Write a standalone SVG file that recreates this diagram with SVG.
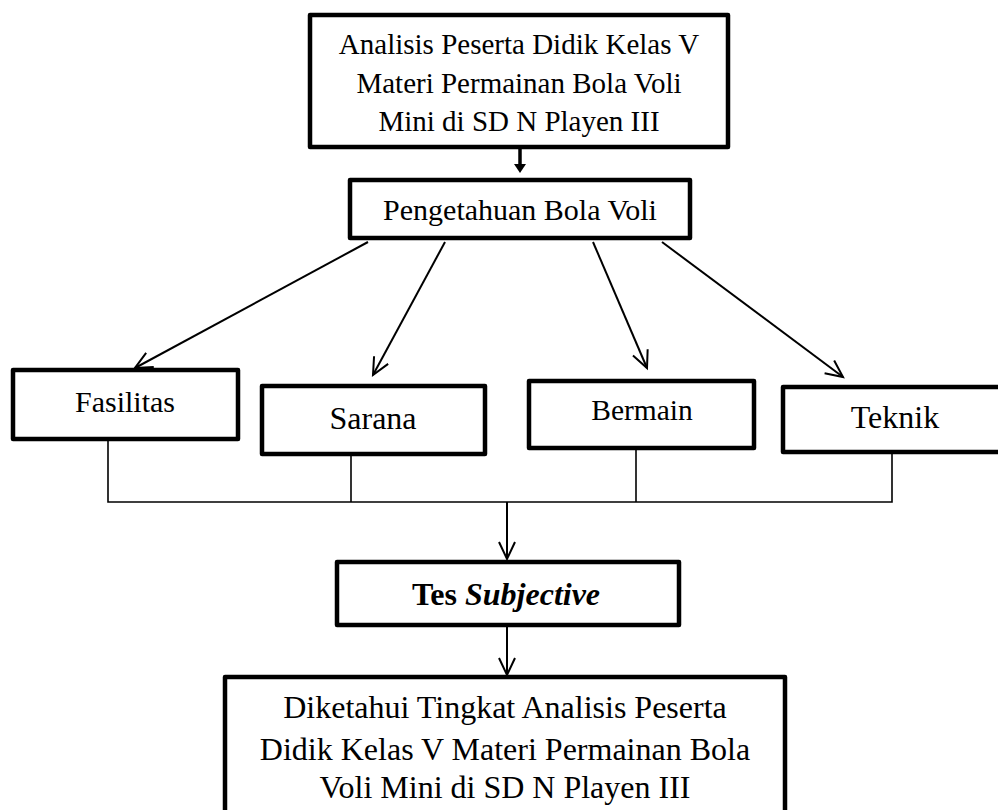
<svg xmlns="http://www.w3.org/2000/svg" width="998" height="810" viewBox="0 0 998 810">
<style>
.box{fill:#fff;stroke:#000;stroke-width:4.5;stroke-linejoin:round}
.t{font-family:"Liberation Serif","Times New Roman",serif;fill:#000;text-anchor:middle}
.arr{stroke:#000;stroke-width:2;fill:none;marker-end:url(#v)}
.thin{stroke:#000;stroke-width:1.6;fill:none}
</style>
<defs>
<marker id="v" markerUnits="userSpaceOnUse" markerWidth="40" markerHeight="40" viewBox="-20 -20 40 40" refX="0" refY="0" orient="auto" overflow="visible">
<path d="M-17,-8 L0,0 L-17,8" fill="none" stroke="#000" stroke-width="2"/>
</marker>
</defs>
<rect width="998" height="810" fill="#fff"/>
<g id="connectors">
<line x1="520" y1="147" x2="520" y2="165" stroke="#000" stroke-width="3.5"/>
<polygon points="514,164 526,164 520,173" fill="#000"/>
<line class="arr" x1="368" y1="242" x2="135" y2="368"/>
<line class="arr" x1="445" y1="242" x2="373" y2="375"/>
<line class="arr" x1="593" y1="242" x2="647" y2="368"/>
<line class="arr" x1="662" y1="242" x2="843" y2="377"/>
<polyline class="thin" points="108,439 108,502 892,502 892,452"/>
<line class="thin" x1="351" y1="454" x2="351" y2="502"/>
<line class="thin" x1="636" y1="448" x2="636" y2="502"/>
<line class="arr" x1="507" y1="502" x2="507" y2="559"/>
<line class="arr" x1="507" y1="625" x2="507" y2="675"/>
</g>
<g id="top">
<rect class="box" x="310" y="15" width="418" height="132"/>
<text class="t" font-size="29" x="519" y="54">Analisis Peserta Didik Kelas V</text>
<text class="t" font-size="29" x="519" y="93">Materi Permainan Bola Voli</text>
<text class="t" font-size="29" x="519" y="131">Mini di SD N Playen III</text>
</g>
<g id="pengetahuan">
<rect class="box" x="350" y="180" width="340" height="58"/>
<text class="t" font-size="30" x="520" y="220">Pengetahuan Bola Voli</text>
</g>
<g id="fasilitas">
<rect class="box" x="13" y="370" width="225" height="69"/>
<text class="t" font-size="30" x="125" y="412">Fasilitas</text>
</g>
<g id="sarana">
<rect class="box" x="262" y="386" width="223" height="68"/>
<text class="t" font-size="32" x="373" y="429">Sarana</text>
</g>
<g id="bermain">
<rect class="box" x="529" y="381" width="225" height="67"/>
<text class="t" font-size="29.5" x="642" y="420">Bermain</text>
</g>
<g id="teknik">
<rect class="box" x="783" y="387" width="240" height="65"/>
<text class="t" font-size="32" x="895" y="428">Teknik</text>
</g>
<g id="tes">
<rect class="box" x="337" y="562" width="342" height="63"/>
<text class="t" font-size="32" x="506" y="605"><tspan font-weight="bold">Tes </tspan><tspan font-weight="bold" font-style="italic">Subjective</tspan></text>
</g>
<g id="hasil">
<rect class="box" x="225" y="677" width="560" height="160"/>
<text class="t" font-size="32" x="505" y="718">Diketahui Tingkat Analisis Peserta</text>
<text class="t" font-size="32" x="505" y="760">Didik Kelas V Materi Permainan Bola</text>
<text class="t" font-size="32" x="505" y="798">Voli Mini di SD N Playen III</text>
</g>
</svg>
